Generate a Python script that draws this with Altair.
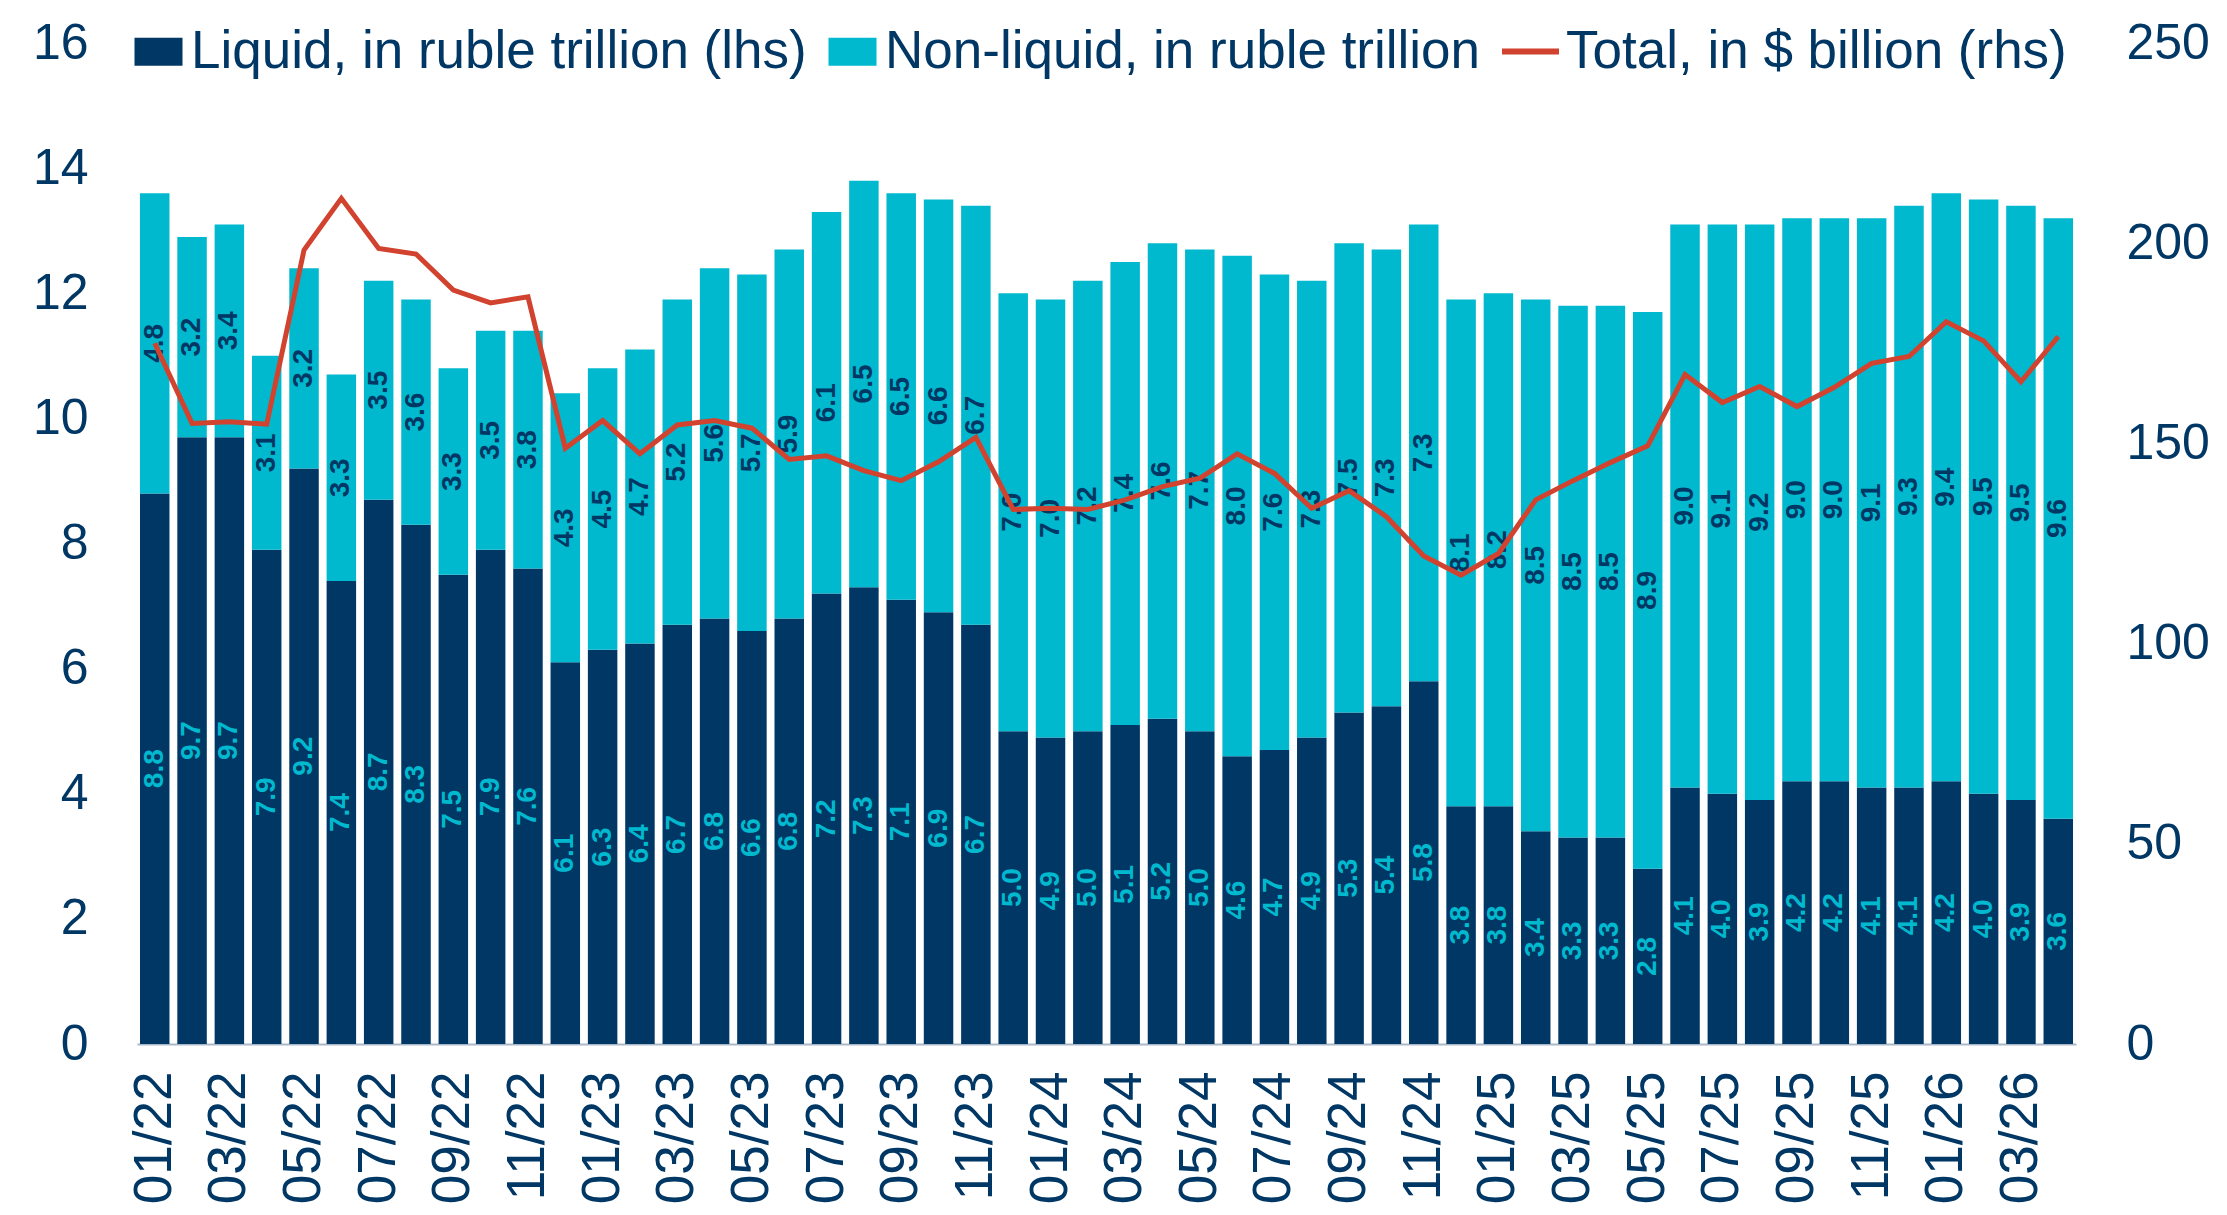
import altair as alt
import pandas as pd

months = [
    "01/22", "02/22", "03/22", "04/22", "05/22", "06/22", "07/22", "08/22", "09/22", "10/22", "11/22", "12/22",
    "01/23", "02/23", "03/23", "04/23", "05/23", "06/23", "07/23", "08/23", "09/23", "10/23", "11/23", "12/23",
    "01/24", "02/24", "03/24", "04/24", "05/24", "06/24", "07/24", "08/24", "09/24", "10/24", "11/24", "12/24",
    "01/25", "02/25", "03/25", "04/25", "05/25", "06/25", "07/25", "08/25", "09/25", "10/25", "11/25", "12/25",
    "01/26", "02/26", "03/26", "04/26",
]
liquid = [
    8.8, 9.7, 9.7, 7.9, 9.2, 7.4, 8.7, 8.3, 7.5, 7.9, 7.6, 6.1,
    6.3, 6.4, 6.7, 6.8, 6.6, 6.8, 7.2, 7.3, 7.1, 6.9, 6.7, 5.0,
    4.9, 5.0, 5.1, 5.2, 5.0, 4.6, 4.7, 4.9, 5.3, 5.4, 5.8, 3.8,
    3.8, 3.4, 3.3, 3.3, 2.8, 4.1, 4.0, 3.9, 4.2, 4.2, 4.1, 4.1,
    4.2, 4.0, 3.9, 3.6,
]
non_liquid = [
    4.8, 3.2, 3.4, 3.1, 3.2, 3.3, 3.5, 3.6, 3.3, 3.5, 3.8, 4.3,
    4.5, 4.7, 5.2, 5.6, 5.7, 5.9, 6.1, 6.5, 6.5, 6.6, 6.7, 7.0,
    7.0, 7.2, 7.4, 7.6, 7.7, 8.0, 7.6, 7.3, 7.5, 7.3, 7.3, 8.1,
    8.2, 8.5, 8.5, 8.5, 8.9, 9.0, 9.1, 9.2, 9.0, 9.0, 9.1, 9.3,
    9.4, 9.5, 9.5, 9.6,
]
total_usd = [
    175.0, 155.0, 155.4, 154.8, 198.3, 211.2, 198.7, 197.3, 188.3, 185.1, 186.6, 148.8,
    155.7, 147.4, 154.6, 155.7, 153.8, 146.0, 146.9, 143.2, 140.7, 145.4, 151.5, 133.5,
    133.8, 133.5, 135.9, 139.2, 141.3, 147.4, 142.5, 133.8, 138.2, 131.7, 121.9, 117.1,
    122.5, 135.9, 140.7, 145.2, 149.4, 167.2, 160.2, 164.2, 159.2, 164.0, 170.0, 171.7,
    180.4, 175.6, 165.4, 176.7,
]
series_names = ["Liquid, in ruble trillion (lhs)", "Non-liquid, in ruble trillion", "Total, in $ billion (rhs)"]
x_tick_labels = months[::2]
left_ticks = [0, 2, 4, 6, 8, 10, 12, 14, 16]
right_ticks = [0, 50, 100, 150, 200, 250]

NAVY = "#003764"
CYAN = "#00B9CE"
RED = "#D2432F"
FONT = "Liberation Sans"

rows = []
for m, l, n in zip(months, liquid, non_liquid):
    rows.append({"month": m, "series": series_names[0], "value": l, "ord": 0, "mid": l / 2})
    rows.append({"month": m, "series": series_names[1], "value": n, "ord": 1, "mid": l + n / 2})
bars_df = pd.DataFrame(rows)
line_df = pd.DataFrame({"month": months, "series": series_names[2], "total": total_usd})

x_enc = alt.X(
    "month:N",
    sort=months,
    scale=alt.Scale(paddingInner=0.21, paddingOuter=0.08),
    axis=alt.Axis(
        title=None, values=x_tick_labels, labelAngle=270, labelFontSize=53, labelColor=NAVY,
        labelFont=FONT, labelPadding=27, ticks=False, tickSize=0, domainColor="#A9B7C8",
        domainWidth=2, grid=False,
    ),
)
y_scale = alt.Scale(domain=[0, 16], nice=False, zero=True)

bars = alt.Chart(bars_df).mark_bar().encode(
    x=x_enc,
    y=alt.Y(
        "value:Q", stack="zero", scale=y_scale,
        axis=alt.Axis(
            title=None, orient="left", values=left_ticks, format="d", labelFontSize=50,
            labelColor=NAVY, labelFont=FONT, labelPadding=49, ticks=False, tickSize=0,
            domain=False, grid=False,
        ),
    ),
    fill=alt.Fill(
        "series:N",
        scale=alt.Scale(domain=series_names[:2], range=[NAVY, CYAN]),
        legend=alt.Legend(
            orient="none", legendX=-5, legendY=-18, direction="horizontal", title=None,
            symbolType="M-1,-0.58H1V0.58H-1Z", symbolSize=2304, symbolStrokeWidth=0,
            symbolOpacity=1, labelFontSize=53, labelColor=NAVY, labelFont=FONT,
            labelOffset=6, columnPadding=19, labelLimit=2000, padding=0, offset=0,
        ),
    ),
    order=alt.Order("ord:Q", sort="ascending"),
)

liq_text = alt.Chart(bars_df).transform_filter(
    alt.datum.ord == 0
).mark_text(angle=270, fontSize=28, fontWeight="bold", font=FONT, color=CYAN,
            align="center", baseline="middle").encode(
    x=alt.X("month:N", sort=months),
    y=alt.Y("mid:Q", scale=y_scale),
    text=alt.Text("value:Q", format=".1f"),
)
non_text = alt.Chart(bars_df).transform_filter(
    alt.datum.ord == 1
).mark_text(angle=270, fontSize=28, fontWeight="bold", font=FONT, color=NAVY,
            align="center", baseline="middle").encode(
    x=alt.X("month:N", sort=months),
    y=alt.Y("mid:Q", scale=y_scale),
    text=alt.Text("value:Q", format=".1f"),
)

left = alt.layer(bars, liq_text, non_text)

line = alt.Chart(line_df).mark_line(strokeWidth=5).encode(
    x=alt.X("month:N", sort=months),
    y=alt.Y(
        "total:Q", scale=alt.Scale(domain=[0, 250], nice=False, zero=True),
        axis=alt.Axis(
            title=None, orient="right", values=right_ticks, format="d", labelFontSize=50,
            labelColor=NAVY, labelFont=FONT, labelPadding=50, ticks=False, tickSize=0,
            domain=False, grid=False,
        ),
    ),
    stroke=alt.Stroke(
        "series:N",
        scale=alt.Scale(domain=[series_names[2]], range=[RED]),
        legend=alt.Legend(
            orient="none", legendX=1362, legendY=-23, title=None,
            symbolType="stroke", symbolSize=3249, symbolStrokeWidth=6,
            labelFontSize=53, labelColor=NAVY, labelFont=FONT, labelOffset=4,
            labelLimit=2000, padding=0, offset=0,
        ),
    ),
)

chart = alt.layer(left, line).resolve_scale(y="independent", fill="independent", stroke="independent").properties(
    width=1939,
    height=1001,
    autosize=alt.AutoSizeParams(type="none"),
    padding={"left": 129, "top": 35, "right": 140, "bottom": 160},
    background="white",
).configure_view(stroke=None)

chart.save("out.html", embed_options={"renderer": "svg", "actions": False})
